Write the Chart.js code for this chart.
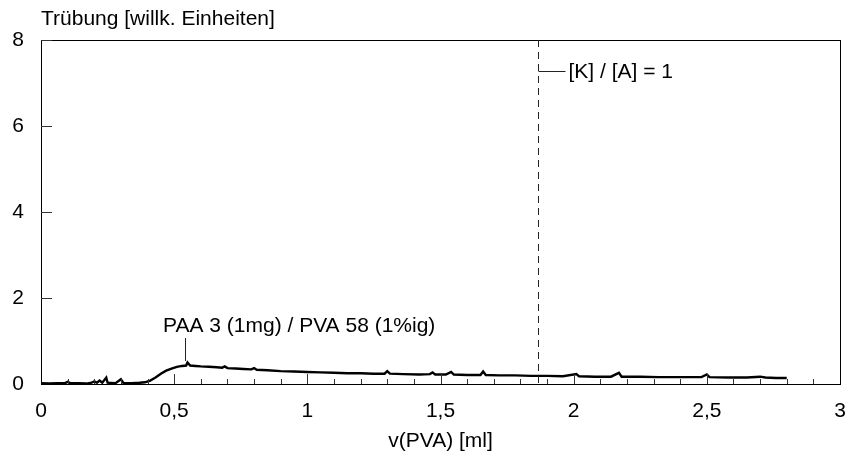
<!DOCTYPE html>
<html>
<head>
<meta charset="utf-8">
<script src="https://cdn.jsdelivr.net/npm/chart.js@4"></script>
<style>
  html, body { margin: 0; padding: 0; background: #fff; }
  #wrap { width: 848px; height: 460px; }
</style>
</head>
<body>
<div id="wrap"><canvas id="chart" width="848" height="460"></canvas></div>
<script>
const volume = [0.00, 0.03, 0.06, 0.09, 0.10, 0.11, 0.14, 0.17, 0.19, 0.20, 0.21, 0.22, 0.23, 0.245, 0.25, 0.28, 0.30, 0.31, 0.34, 0.37,
  0.39, 0.41, 0.43, 0.45, 0.47, 0.49, 0.51, 0.53, 0.545, 0.55, 0.56, 0.58, 0.60, 0.63, 0.66, 0.68, 0.69, 0.70, 0.73, 0.76,
  0.79, 0.80, 0.81, 0.85, 0.90, 0.95, 1.00, 1.05, 1.10, 1.15, 1.20, 1.25, 1.29, 1.30, 1.31, 1.36, 1.42, 1.46, 1.47, 1.48,
  1.52, 1.54, 1.55, 1.60, 1.65, 1.66, 1.67, 1.72, 1.78, 1.84, 1.90, 1.96, 2.01, 2.02, 2.08, 2.14, 2.17, 2.18, 2.25, 2.32,
  2.40, 2.48, 2.50, 2.51, 2.58, 2.65, 2.70, 2.72, 2.76, 2.80];
const truebung = [0.02, 0.01, 0.02, 0.02, 0.05, 0.02, 0.02, 0.01, 0.03, 0.06, 0.03, 0.08, 0.03, 0.15, 0.03, 0.02, 0.11, 0.02, 0.02, 0.03,
  0.04, 0.08, 0.15, 0.24, 0.31, 0.36, 0.40, 0.42, 0.43, 0.50, 0.43, 0.42, 0.41, 0.40, 0.39, 0.38, 0.41, 0.37, 0.36, 0.35,
  0.34, 0.37, 0.33, 0.32, 0.30, 0.29, 0.28, 0.27, 0.26, 0.25, 0.25, 0.24, 0.24, 0.30, 0.24, 0.23, 0.22, 0.23, 0.27, 0.22,
  0.22, 0.28, 0.22, 0.21, 0.21, 0.29, 0.21, 0.20, 0.20, 0.19, 0.19, 0.18, 0.23, 0.18, 0.17, 0.17, 0.26, 0.17, 0.17, 0.16,
  0.16, 0.16, 0.22, 0.16, 0.15, 0.15, 0.17, 0.15, 0.14, 0.14];

const xTicks = [0, 0.5, 1, 1.5, 2, 2.5, 3];
const yTicks = [0, 2, 4, 6, 8];
const kaGleich1 = 1.866;   // [K]/[A] = 1
const paaMarkX = 0.54;

const FONT = '"Liberation Sans", Arial, Helvetica, sans-serif';
const FS = 21;

// Rahmen, Ticks nach innen, Beschriftungen
const deko = {
  id: 'deko',
  afterDraw(chart) {
    const { ctx, chartArea: a, scales: { x, y } } = chart;
    ctx.save();
    // Rahmen
    ctx.strokeStyle = '#000';
    ctx.lineWidth = 1;
    ctx.strokeRect(a.left + 0.5, a.top + 0.5, a.right - a.left, a.bottom - a.top);
    // x-Ticks (0,1er Schritte)
    ctx.strokeStyle = '#333';
    for (let i = 1; i < 30; i++) {
      const px = Math.round(x.getPixelForValue(i / 10)) + 0.5;
      const len = i % 5 === 0 ? 10 : 5;
      ctx.beginPath();
      ctx.moveTo(px, a.bottom);
      ctx.lineTo(px, a.bottom - len);
      ctx.stroke();
    }
    // y-Ticks
    yTicks.forEach(v => {
      if (v === 0) return;
      const py = Math.round(y.getPixelForValue(v)) + 0.5;
      ctx.beginPath();
      ctx.moveTo(a.left, py);
      ctx.lineTo(a.left + 11, py);
      ctx.stroke();
    });
    // gestrichelte Linie
    const kx = Math.round(x.getPixelForValue(kaGleich1)) + 0.5;
    ctx.strokeStyle = '#222';
    ctx.setLineDash([7, 5]);
    ctx.beginPath();
    ctx.moveTo(kx, a.top);
    ctx.lineTo(kx, a.bottom);
    ctx.stroke();
    ctx.setLineDash([]);
    ctx.beginPath();
    ctx.moveTo(kx, 71.5);
    ctx.lineTo(kx + 27, 71.5);
    ctx.stroke();
    ctx.fillStyle = '#000';
    ctx.font = FS + 'px ' + FONT;
    ctx.textBaseline = 'middle';
    ctx.textAlign = 'left';
    ctx.fillText('[K] / [A] = 1', kx + 30, 72);
    // PAA-Beschriftung
    const mx = Math.round(x.getPixelForValue(paaMarkX)) + 0.5;
    ctx.beginPath();
    ctx.moveTo(mx, 338);
    ctx.lineTo(mx, 361);
    ctx.stroke();
    ctx.fillText('PAA 3 (1mg) / PVA 58 (1%ig)', 163, 326);
    // y-Titel
    ctx.fillText('Trübung [willk. Einheiten]', a.left, 19);
    ctx.restore();
  }
};

new Chart(document.getElementById('chart'), {
  type: 'line',
  data: {
    datasets: [{
      data: volume.map((v, i) => ({ x: v, y: truebung[i] })),
      borderColor: '#000',
      borderWidth: 2.4,
      pointRadius: 0,
      tension: 0,
      fill: false
    }]
  },
  plugins: [deko],
  options: {
    responsive: false,
    animation: false,
    events: [],
    layout: { padding: { top: 40, right: 8, left: 0, bottom: 0 } },
    plugins: { legend: { display: false }, tooltip: { enabled: false } },
    scales: {
      x: {
        type: 'linear',
        min: 0, max: 3,
        afterBuildTicks: s => { s.ticks = xTicks.map(v => ({ value: v })); },
        afterFit: s => { s.height = 76; s.paddingLeft = 0; s.paddingRight = 0; },
        grid: { display: false, drawTicks: false },
        border: { display: false },
        ticks: {
          padding: 15,
          color: '#000',
          font: { family: FONT, size: FS },
          callback: v => String(v).replace('.', ',')
        },
        title: {
          display: true,
          text: 'v(PVA) [ml]',
          color: '#000',
          font: { family: FONT, size: FS },
          padding: { top: 0, bottom: 6 }
        }
      },
      y: {
        min: 0, max: 8,
        afterBuildTicks: s => { s.ticks = yTicks.map(v => ({ value: v })); },
        afterFit: s => { s.width = 41; s.paddingTop = 0; s.paddingBottom = 0; },
        grid: { display: false, drawTicks: false },
        border: { display: false },
        ticks: {
          padding: 17,
          color: '#000',
          font: { family: FONT, size: FS }
        }
      }
    }
  }
});
</script>
</body>
</html>
